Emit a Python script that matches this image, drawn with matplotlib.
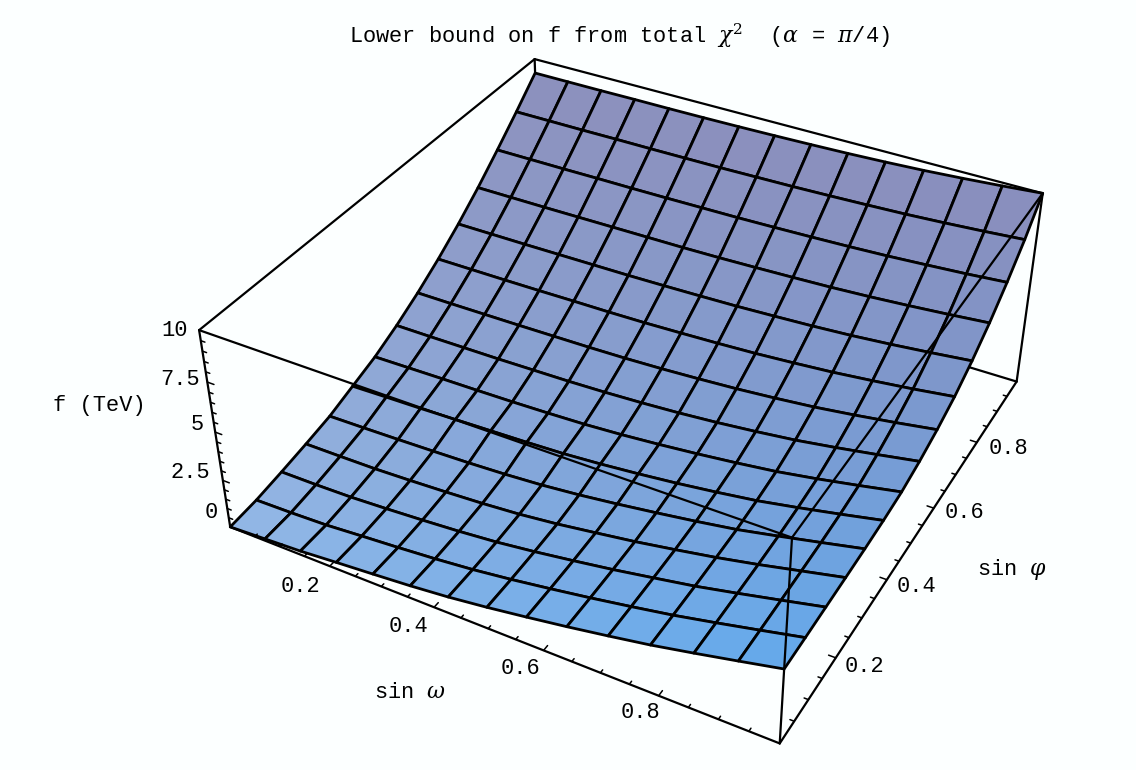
"""Lower bound on f from total chi^2, redrawn as a 3D surface."""
import numpy as np
import matplotlib
matplotlib.use("Agg")
import matplotlib.pyplot as plt
from matplotlib.colors import to_rgb

W, H = 1136, 770

# grid: rows follow sin omega, columns follow sin phi
sin_omega = [i / 14 for i in range(15)]
sin_phi = [i / 14 for i in range(15)]
f_tev = [
    [0.00, 0.12, 0.35, 0.61, 0.90, 1.35, 1.80, 2.40, 3.10, 3.90, 4.80, 5.80, 6.90, 8.05, 9.26],
    [0.10, 0.16, 0.36, 0.62, 0.93, 1.40, 1.83, 2.40, 3.10, 3.90, 4.80, 5.80, 6.90, 8.05, 9.26],
    [0.20, 0.23, 0.40, 0.64, 0.97, 1.44, 1.86, 2.41, 3.11, 3.90, 4.80, 5.80, 6.90, 8.05, 9.26],
    [0.36, 0.38, 0.50, 0.71, 1.02, 1.50, 1.88, 2.42, 3.12, 3.91, 4.81, 5.81, 6.91, 8.06, 9.27],
    [0.51, 0.52, 0.62, 0.80, 1.08, 1.56, 1.91, 2.45, 3.14, 3.93, 4.82, 5.82, 6.91, 8.06, 9.27],
    [0.67, 0.68, 0.76, 0.91, 1.17, 1.62, 1.96, 2.48, 3.16, 3.94, 4.83, 5.83, 6.92, 8.07, 9.28],
    [0.87, 0.88, 0.94, 1.06, 1.30, 1.70, 2.03, 2.54, 3.20, 3.97, 4.86, 5.84, 6.94, 8.08, 9.30],
    [1.13, 1.14, 1.19, 1.28, 1.49, 1.84, 2.15, 2.63, 3.27, 4.03, 4.90, 5.87, 6.96, 8.11, 9.33],
    [1.43, 1.44, 1.48, 1.56, 1.73, 2.02, 2.31, 2.75, 3.37, 4.10, 4.95, 5.92, 7.00, 8.14, 9.37],
    [1.75, 1.76, 1.79, 1.85, 2.00, 2.23, 2.50, 2.91, 3.49, 4.19, 5.03, 5.98, 7.05, 8.19, 9.42],
    [2.10, 2.11, 2.14, 2.19, 2.29, 2.48, 2.72, 3.11, 3.65, 4.32, 5.12, 6.05, 7.11, 8.25, 9.49],
    [2.47, 2.48, 2.50, 2.55, 2.61, 2.76, 2.97, 3.34, 3.84, 4.47, 5.24, 6.15, 7.19, 8.32, 9.58],
    [2.90, 2.91, 2.93, 2.96, 3.02, 3.13, 3.30, 3.64, 4.09, 4.67, 5.40, 6.28, 7.30, 8.42, 9.70],
    [3.35, 3.36, 3.38, 3.41, 3.45, 3.53, 3.67, 3.97, 4.37, 4.89, 5.59, 6.43, 7.42, 8.54, 9.84],
    [3.81, 3.82, 3.84, 3.86, 3.89, 3.95, 4.06, 4.32, 4.68, 5.15, 5.80, 6.60, 7.57, 8.68, 10.00],
]

xy_ticks = [0.2, 0.4, 0.6, 0.8]
xy_tick_labels = ["0.2", "0.4", "0.6", "0.8"]
xy_minor = [i * 0.05 for i in range(1, 20)]
z_ticks = [0, 2.5, 5, 7.5, 10]
z_tick_labels = ["0", "2.5", "5", "7.5", "10"]
z_minor = [i * 0.5 for i in range(1, 20)]

FONT = "Liberation Mono"
FS = 15.8
BG = "#fcffff"
corner_cols = {"00": "#93b8e6", "10": "#63a9ec", "01": "#8c90bc", "11": "#8a8ebc"}

plt.rcParams["mathtext.fontset"] = "dejavuserif"

fig = plt.figure(figsize=(W / 100, H / 100), dpi=100, facecolor=BG)
# axes box and camera were fitted to the corners of the reference cube
ax = fig.add_axes([203.12 / W, -26.53 / H, 854.03 / W, 854.03 / H], projection="3d")
ax.set_xlim(0, 1)
ax.set_ylim(0, 1)
ax.set_zlim(0, 10)
ax.view_init(elev=36.3329, azim=-61.5345, roll=-0.0668)
ax.set_proj_type("persp", focal_length=0.4385)
ax.set_box_aspect((1, 0.9976, 0.3983))
ax.set_axis_off()
ax.patch.set_alpha(0)
ax.computed_zorder = False


def edge(a, b, zorder, lw=1.6):
    ax.plot([a[0], b[0]], [a[1], b[1]], [a[2], b[2]], color="k", lw=lw,
            zorder=zorder, solid_capstyle="round", clip_on=False)


# back of the box goes under the surface
for a, b in [((0, 0, 10), (0, 1, 10)), ((0, 1, 10), (1, 1, 10)), ((0, 1, 10), (0, 1, 0)),
             ((0, 1, 0), (1, 1, 0)), ((0, 1, 0), (0, 0, 0))]:
    edge(a, b, 1)

# surface, colour blends between the four corners of the sheet
X, Y = np.meshgrid(sin_omega, sin_phi, indexing="ij")
Z = np.array(f_tev)
u = (X[:-1, :-1] + X[1:, 1:]) / 2
v = (Y[:-1, :-1] + Y[1:, 1:]) / 2
cols = ((1 - u) * (1 - v))[..., None] * np.array(to_rgb(corner_cols["00"])) \
    + (u * (1 - v))[..., None] * np.array(to_rgb(corner_cols["10"])) \
    + ((1 - u) * v)[..., None] * np.array(to_rgb(corner_cols["01"])) \
    + (u * v)[..., None] * np.array(to_rgb(corner_cols["11"]))
ax.plot_surface(X, Y, Z, rstride=1, cstride=1, facecolors=cols, shade=False,
                edgecolor="k", linewidth=2.0, antialiased=True, zorder=2)

# front of the box goes over it
for a, b in [((0, 0, 0), (1, 0, 0)), ((1, 0, 0), (1, 1, 0)), ((0, 0, 0), (0, 0, 10)),
             ((1, 0, 0), (1, 0, 10)), ((0, 0, 10), (1, 0, 10)), ((1, 0, 10), (1, 1, 10)),
             ((1, 1, 0), (1, 1, 10))]:
    edge(a, b, 3)

# ticks point along the neighbouring box edge
for t in xy_minor:
    major = any(abs(t - m) < 1e-6 for m in xy_ticks)
    d = 0.012 if major else 0.007
    edge((t, 0, 0), (t, d, 0), 3, lw=1.1)
    edge((1, t, 0), (1 - d, t, 0), 3, lw=1.1)
for t in z_minor:
    major = any(abs(t - m) < 1e-6 for m in z_ticks)
    d = 0.013 if major else 0.008
    edge((0, 0, t), (d, 0, t), 3, lw=1.1)


def label(px, py, s, ha="center"):
    fig.text(px / W, 1 - py / H, s, ha=ha, va="center", family=FONT, fontsize=FS,
             color="#000000")


label(349, 36, r"Lower bound on f from total $\chi^2$  ($\alpha$ = $\pi$/4)", ha="left")
for (px, py), s in zip([(300, 586), (408, 627), (520, 669), (640, 712)], xy_tick_labels):
    label(px, py, s)
for (px, py), s in zip([(865, 666), (917, 587), (965, 513), (1008, 449)], xy_tick_labels):
    label(px, py, s)
for (px, py), s in zip([(211, 513), (190, 472), (197, 425), (180, 380), (175, 331)], z_tick_labels):
    label(px, py, s)
label(99, 405, "f (TeV)")
label(410, 693, r"sin $\omega$")
label(1012, 569, r"sin $\varphi$")

fig.savefig("out.png", dpi=100, facecolor=BG)
